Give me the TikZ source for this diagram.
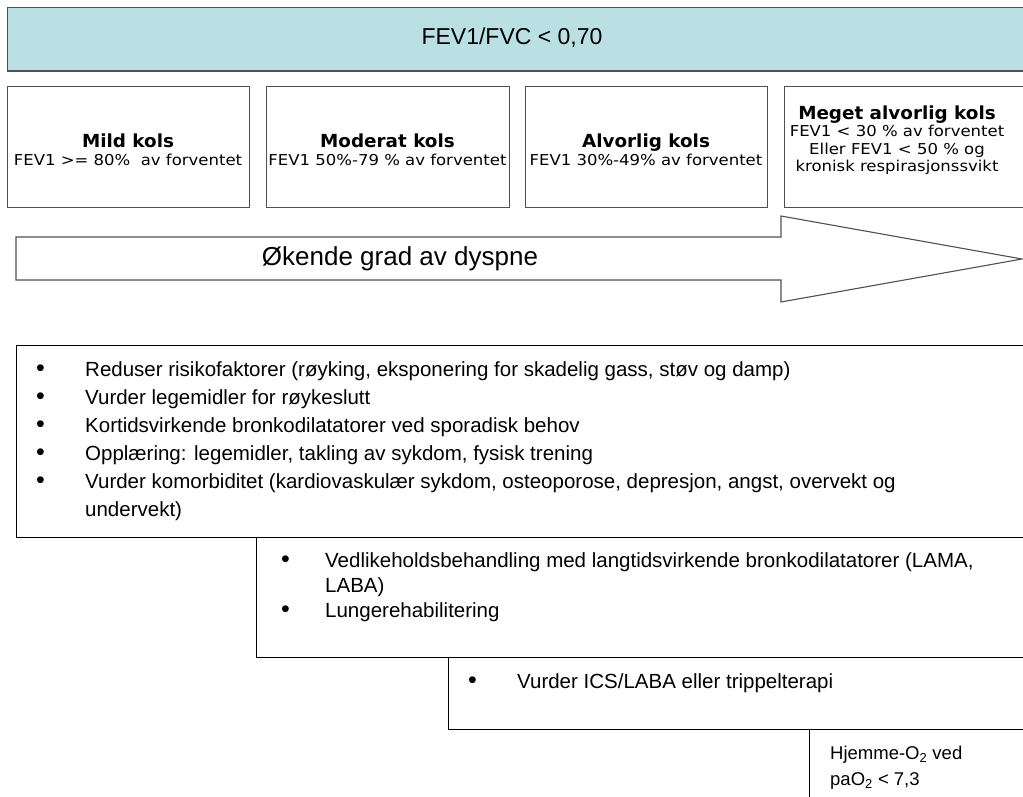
\documentclass[tikz,border=0pt]{standalone}
\usepackage{fontspec}
\setmainfont{Liberation Sans}
\newfontfamily\stagefont[FakeStretch=1.1]{DejaVu Sans}
\newfontfamily\stagebold[FakeStretch=1.02]{DejaVu Sans Bold}
\definecolor{titlefill}{HTML}{BBE0E3}
\definecolor{edge}{HTML}{505050}
\newcommand{\blt}{{\fontsize{25}{25}\selectfont\textbullet}}
\newcommand{\stt}[1]{{\stagebold\fontsize{18}{18}\selectfont #1}}
\begin{document}
\begin{tikzpicture}[x=1pt,y=-1pt,
  outline/.style={draw=edge, line width=1.3pt},
  listbox/.style={draw=black, line width=1.4pt},
  stagebox/.style={outline, anchor=north west, minimum height=121pt, inner sep=0pt},
  stagetxt/.style={align=center, inner sep=0pt, font=\stagefont\fontsize{15}{17.5}\selectfont},
  listtxt/.style={anchor=north west, inner sep=0pt, align=left, font=\fontsize{20.5}{28}\selectfont},
  bigtxt/.style={inner sep=0pt, font=\fontsize{23}{26}\selectfont}]
\useasboundingbox (0,0) rectangle (1023,796);
\clip (0,0) rectangle (1023,796);
% title
\node[outline, fill=titlefill, anchor=north west, minimum width=1030pt, minimum height=63pt, inner sep=0pt] (top) at (7,7) {};
\draw[edge, line width=2.2pt] (top.south west) -- (top.south east);
\node[bigtxt] (toptxt) at (512,38) {FEV1/FVC < 0,70};
% stage boxes
\node[stagebox, minimum width=242pt] (s1) at (7,86) {};
\node[stagebox, minimum width=243pt] (s2) at (266,86) {};
\node[stagebox, minimum width=242pt] (s3) at (525,86) {};
\node[stagebox, minimum width=260pt] (s4) at (784,86) {};
\node[stagetxt] (t1) at (128,150) {\stt{Mild kols}\\FEV1 >= 80\% \ av forventet};
\node[stagetxt] (t2) at (387.5,150) {\stt{Moderat kols}\\FEV1 50\%-79 \% av forventet};
\node[stagetxt] (t3) at (646,150) {\stt{Alvorlig kols}\\FEV1 30\%-49\% av forventet};
\node[stagetxt] (t4) at (897,140) {\stt{Meget alvorlig kols}\\FEV1 < 30 \% av forventet\\Eller FEV1 < 50 \% og\\kronisk respirasjonssvikt};
% arrow
\draw[outline, line width=1.1pt, fill=white] (16,237) -- (781,237) -- (781,216) -- (1022,259) -- (781,302) -- (781,280) -- (16,280) -- cycle;
\node[bigtxt, font=\fontsize{26}{28}\selectfont] (dysp) at (400,259) {Økende grad av dyspne};
% treatment boxes
\node[listbox, anchor=north west, minimum width=1020pt, minimum height=192pt, inner sep=0pt] (b1) at (16,345) {};
\node[listbox, anchor=north west, minimum width=780pt, minimum height=120pt, inner sep=0pt] (b2) at (256,537) {};
\node[listbox, anchor=north west, minimum width=590pt, minimum height=72pt, inner sep=0pt] (b3) at (448,657) {};
\node[listbox, anchor=north west, minimum width=230pt, minimum height=100pt, inner sep=0pt] (b4) at (809,729) {};
\node[listtxt] (l1) at (36,357) {\begin{tabular}{@{}p{49pt}@{}l@{}}
\blt & Reduser risikofaktorer (røyking, eksponering for skadelig gass, støv og damp)\\
\blt & Vurder legemidler for røykeslutt\\
\blt & Kortidsvirkende bronkodilatatorer ved sporadisk behov\\
\blt & Opplæring: legemidler, takling av sykdom, fysisk trening\\
\blt & Vurder komorbiditet (kardiovaskulær sykdom, osteoporose, depresjon, angst, overvekt og\\
 & undervekt)
\end{tabular}};
\node[listtxt, font=\fontsize{20.5}{25}\selectfont] (l2) at (281,550) {\begin{tabular}{@{}p{44pt}@{}l@{}}
\blt & Vedlikeholdsbehandling med langtidsvirkende bronkodilatatorer (LAMA,\\
 & LABA)\\
\blt & Lungerehabilitering
\end{tabular}};
\node[listtxt, font=\fontsize{20.5}{25}\selectfont] (l3) at (468,671) {\begin{tabular}{@{}p{49pt}@{}l@{}}
\blt & Vurder ICS/LABA eller trippelterapi
\end{tabular}};
\node[listtxt, font=\fontsize{18.5}{26}\selectfont] (l4) at (830,741) {\begin{tabular}{@{}l@{}}
Hjemme-O\textsubscript{2} ved\\
paO\textsubscript{2} < 7,3
\end{tabular}};
\end{tikzpicture}
\end{document}
